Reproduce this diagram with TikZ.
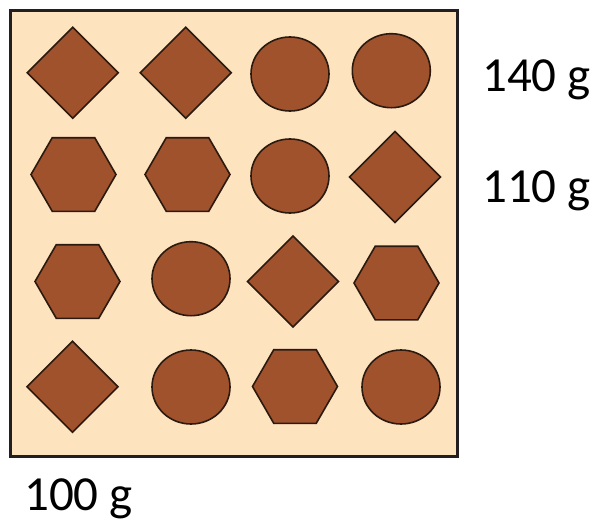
\documentclass[tikz,border=0pt]{standalone}
\usepackage{fontspec}
\setmainfont{Carlito}
\definecolor{bgpeach}{HTML}{FEE3BF}
\definecolor{choc}{HTML}{A0522D}
\definecolor{edgedark}{HTML}{2A1A10}
\definecolor{boxline}{HTML}{231F20}
\tikzset{
  piece/.style={fill=choc, draw=edgedark, line width=1.6pt, line join=miter},
  lbl/.style={font=\fontsize{49}{52}\selectfont, text=black, inner sep=0pt, anchor=base west},
}
\newcommand{\dmd}[2]{\draw[piece] (#1+45.5,#2) -- (#1,#2-45.5) -- (#1-45.5,#2) -- (#1,#2+45.5) -- cycle;}
\newcommand{\hexa}[2]{\draw[piece] (#1+42.5,#2) -- (#1+21.25,#2-36.8) -- (#1-21.25,#2-36.8) -- (#1-42.5,#2) -- (#1-21.25,#2+36.8) -- (#1+21.25,#2+36.8) -- cycle;}
\newcommand{\circl}[2]{\draw[piece] (#1,#2) ellipse [x radius=39, y radius=37];}
\begin{document}
\begin{tikzpicture}[x=1pt,y=-1pt]
\useasboundingbox (0,0) rectangle (600,525);
\draw[fill=bgpeach, draw=boxline, line width=3pt] (10.5,10.5) rectangle (457.5,456);
% row 1
\dmd{72.7}{72.7}
\dmd{185.7}{72.7}
\circl{290}{74}
\circl{391.3}{70.7}
% row 2
\hexa{73.5}{174.5}
\hexa{187.5}{174.5}
\circl{290}{176}
\dmd{395}{177}
% row 3
\hexa{77.5}{281.5}
\circl{191}{278.7}
\dmd{293}{281.5}
\hexa{396.5}{283}
% row 4
\dmd{72.5}{386.7}
\circl{191}{387}
\hexa{295}{386.5}
\circl{401}{387}
\node[lbl] (w140) at (482,91) {140 g};
\node[lbl] (w110) at (482,202) {110 g};
\node[lbl] (w100) at (24,510) {100 g};
\end{tikzpicture}
\end{document}
